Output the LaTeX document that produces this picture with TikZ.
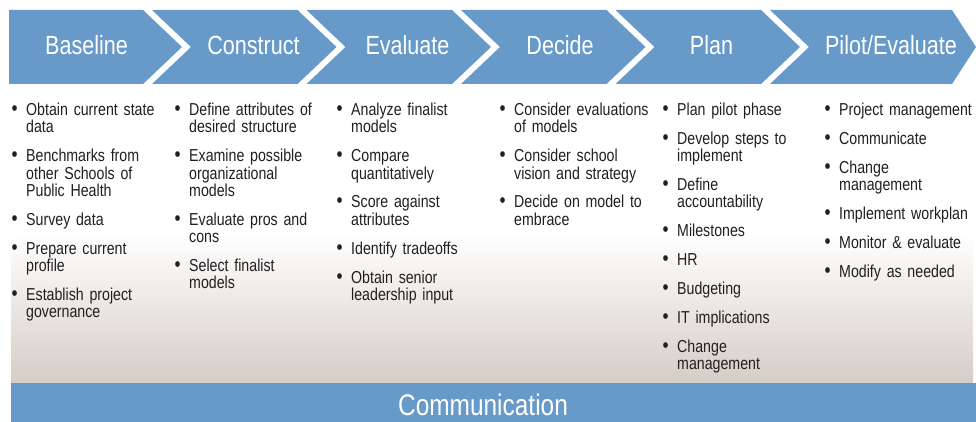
\documentclass[tikz,border=0pt]{standalone}
\usepackage{fontspec}
\setmainfont{Liberation Sans}[FakeStretch=0.82]
\definecolor{stepblue}{RGB}{103,153,201}
\definecolor{bodytext}{RGB}{35,31,32}
\definecolor{panelbase}{RGB}{213,205,198}
\pgfdeclareverticalshading{panelfade}{100bp}{color(0bp)=(panelbase); color(25bp)=(panelbase); color(50bp)=(white); color(100bp)=(white)}
% one bulleted entry with a hanging indent; lines are broken by hand
\newcommand\itm[1]{\par\noindent\hangindent=14.5pt\hangafter=1\rule{0pt}{13pt}\makebox[14.5pt][l]{\fontsize{21}{21}\selectfont•}#1}
\newcommand\colsetup{\setlength{\parskip}{11.6pt}}
\begin{document}
\begin{tikzpicture}[x=1pt,y=-1pt,
  chevron/.style={fill=stepblue},
  head/.style={text=white, font=\fontsize{26.3}{30}\selectfont, inner sep=0pt, anchor=base},
  col/.style={anchor=north west, inner sep=0pt, text width=160pt, text=bodytext,
    font=\fontsize{17.3}{17.3}\selectfont}]
\useasboundingbox (0,0) rectangle (976,422);
% fading panel behind the task lists
\shade[shading=panelfade] (11,85) rectangle (973,383);
% chevron band
\fill[chevron] (9,10) -- (143,10) -- (182,47) -- (143,84) -- (9,84) -- cycle;
\foreach \L in {152,306.5,461,615.5}{
  \fill[chevron] (\L,10) -- (\L+145.5,10) -- (\L+184.5,47) -- (\L+145.5,84)
    -- (\L,84) -- (\L+39,47) -- cycle;
}
\fill[chevron] (770,10) -- (952,10) -- (976,47) -- (952,84) -- (770,84) -- (809,47) -- cycle;
\node[head] (h1) at (86.5,55) {Baseline};
\node[head] (h2) at (253.5,55) {Construct};
\node[head] (h3) at (407.5,55) {Evaluate};
\node[head] (h4) at (560,55) {Decide};
\node[head] (h5) at (711.5,55) {Plan};
\node[head] (h6) at (891,55) {Pilot/Evaluate};
% task lists
\node[col] (c1) at (11.5,86.5) {\colsetup
  \itm{Obtain current state\newline data}
  \itm{Benchmarks from\newline other Schools of\newline Public Health}
  \itm{Survey data}
  \itm{Prepare current\newline profile}
  \itm{Establish project\newline governance}\par};
\node[col] (c2) at (174.5,86.5) {\colsetup
  \itm{Define attributes of\newline desired structure}
  \itm{Examine possible\newline organizational\newline models}
  \itm{Evaluate pros and\newline cons}
  \itm{Select finalist\newline models}\par};
\node[col] (c3) at (336.5,86.5) {\colsetup
  \itm{Analyze finalist\newline models}
  \itm{Compare\newline quantitatively}
  \itm{Score against\newline attributes}
  \itm{Identify tradeoffs}
  \itm{Obtain senior\newline leadership input}\par};
\node[col] (c4) at (499.5,86.5) {\colsetup
  \itm{Consider evaluations\newline of models}
  \itm{Consider school\newline vision and strategy}
  \itm{Decide on model to\newline embrace}\par};
\node[col] (c5) at (662.5,86.5) {\colsetup
  \itm{Plan pilot phase}
  \itm{Develop steps to\newline implement}
  \itm{Define\newline accountability}
  \itm{Milestones}
  \itm{HR}
  \itm{Budgeting}
  \itm{IT implications}
  \itm{Change\newline management}\par};
\node[col] (c6) at (824.5,86.5) {\colsetup
  \itm{Project management}
  \itm{Communicate}
  \itm{Change\newline management}
  \itm{Implement workplan}
  \itm{Monitor \& evaluate}
  \itm{Modify as needed}\par};
% communication bar
\fill[stepblue] (11,383) rectangle (976,422);
\node[head, font=\fontsize{29.8}{34}\selectfont] (comm) at (483,415) {Communication};
\end{tikzpicture}
\end{document}
